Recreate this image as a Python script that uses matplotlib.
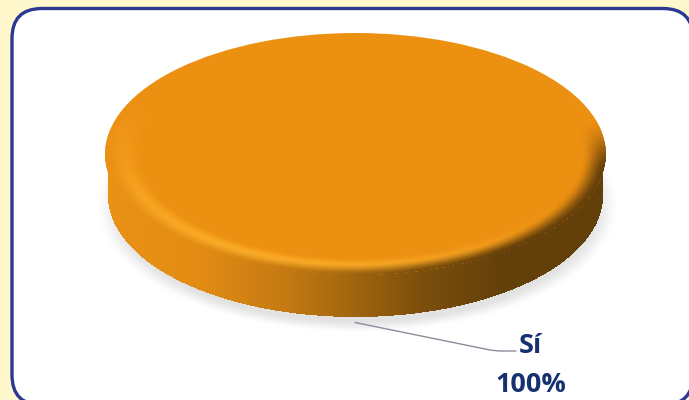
import numpy as np
import matplotlib
matplotlib.use("Agg")
import matplotlib.pyplot as plt
from matplotlib.patches import FancyBboxPatch

# Data
categories = ["Sí"]
shares = [100]
pct_labels = ["100%"]

W, H = 689, 400
CX, CY, RX, RY = 355.5, 154.0, 250.5, 121.0
DEPTH = 42
fig = plt.figure(figsize=(W / 100, H / 100), dpi=100, facecolor="#FFF8CC")
ax = fig.add_axes([0, 0, 1, 1])
ax.set_xlim(0, W)
ax.set_ylim(H, 0)
ax.axis("off")

panel = FancyBboxPatch((12, 8.5), 681, 396.5, boxstyle="round,pad=0,rounding_size=30",
                       fc="white", ec="#2B3990", lw=2.4, zorder=1)
ax.add_patch(panel)

X, Y = np.meshgrid(np.arange(W) + 0.5, np.arange(H) + 0.5)


def smooth(a, b, v):
    t = np.clip((v - a) / (b - a), 0, 1)
    return t * t * (3 - 2 * t)


def rgba(rgb, alpha):
    return np.dstack([rgb, alpha])


extent = (0, W, H, 0)

# soft shadow beneath the disc
d_sh = np.hypot((X - CX - 2) / (RX - 3), (Y - (CY + DEPTH + 10)) / (RY - 1))
sh_alpha = (1 - smooth(0.95, 1.06, d_sh)) * 0.40
sh = np.full((H, W, 3), 0.72)
ax.imshow(rgba(sh, sh_alpha), extent=extent, zorder=2, aspect="auto", interpolation="bilinear")

# side wall colour ramp
stops_x = [105, 200, 280, 345, 420, 500, 606]
stops_c = np.array([
    [0.92, 0.57, 0.09], [0.89, 0.55, 0.08], [0.78, 0.48, 0.07], [0.65, 0.41, 0.06],
    [0.49, 0.31, 0.05], [0.39, 0.25, 0.04], [0.39, 0.25, 0.04]])
side_rgb = np.dstack([np.interp(X, stops_x, stops_c[:, i]) for i in range(3)])
d_top = np.hypot((X - CX) / RX, (Y - CY) / RY)
d_bot = np.hypot((X - CX) / (RX - 3), (Y - (CY + DEPTH)) / RY)
in_side = ((d_bot <= 1) | ((np.abs(X - CX) <= RX - 3) & (Y >= CY) & (Y <= CY + DEPTH))).astype(float)
ax.imshow(rgba(side_rgb, in_side), extent=extent, zorder=3, aspect="auto", interpolation="bilinear")

# top face from the values: a pie in its own axes, flattened to an ellipse
pie_ax = fig.add_axes([(CX - RX) / W, 1 - (CY + RY) / H, 2 * RX / W, 2 * RY / H], zorder=2)
wedges, _ = pie_ax.pie(shares, startangle=90, counterclock=False, radius=1,
                       colors=["#EC9012"], wedgeprops={"linewidth": 0})
pie_ax.set_aspect("auto")
pie_ax.set_xlim(-1, 1)
pie_ax.set_ylim(-1, 1)
pie_ax.patch.set_alpha(0)

# bevel: bright ridge on the lit side, rim fading into the wall below
ov = fig.add_axes([0, 0, 1, 1], zorder=3)
ov.set_xlim(0, W)
ov.set_ylim(H, 0)
ov.axis("off")
inside = d_top <= 1.0
ang = np.arctan2((Y - CY) / RY, (X - CX) / RX)
sin_a = np.sin(ang)
ridge = smooth(0.85, 0.93, d_top) * (1 - smooth(0.95, 0.995, d_top) * 0.6)
light = np.clip(np.cos(ang - 2.05), 0, 1) ** 1.3
bev = np.zeros((H, W, 4))
bev[..., :3] = (1.0, 0.70, 0.17)
bev[..., 3] = ridge * light * 0.95 * inside
ov.imshow(bev, extent=extent, aspect="auto", interpolation="bilinear")

fade = smooth(0.90, 1.0, d_top) * smooth(-0.30, 0.15, sin_a) * inside
ov.imshow(rgba(side_rgb, fade), extent=extent, aspect="auto", interpolation="bilinear")

# leader and label
ov.plot([355, 490, 499, 516], [322.5, 350, 351, 351], color="#8A8E9A", lw=1.0, zorder=5, solid_capstyle="round")
txt = dict(color="#17306F", family="Open Sans", fontweight="bold", fontsize=19.5, ha="center", va="center", zorder=6)
ov.text(530, 346, categories[0], **txt)
ov.text(531, 385, pct_labels[0], **txt)
ov.set_xlim(0, W)
ov.set_ylim(H, 0)

fig.savefig("out.png", dpi=100, facecolor=fig.get_facecolor())
